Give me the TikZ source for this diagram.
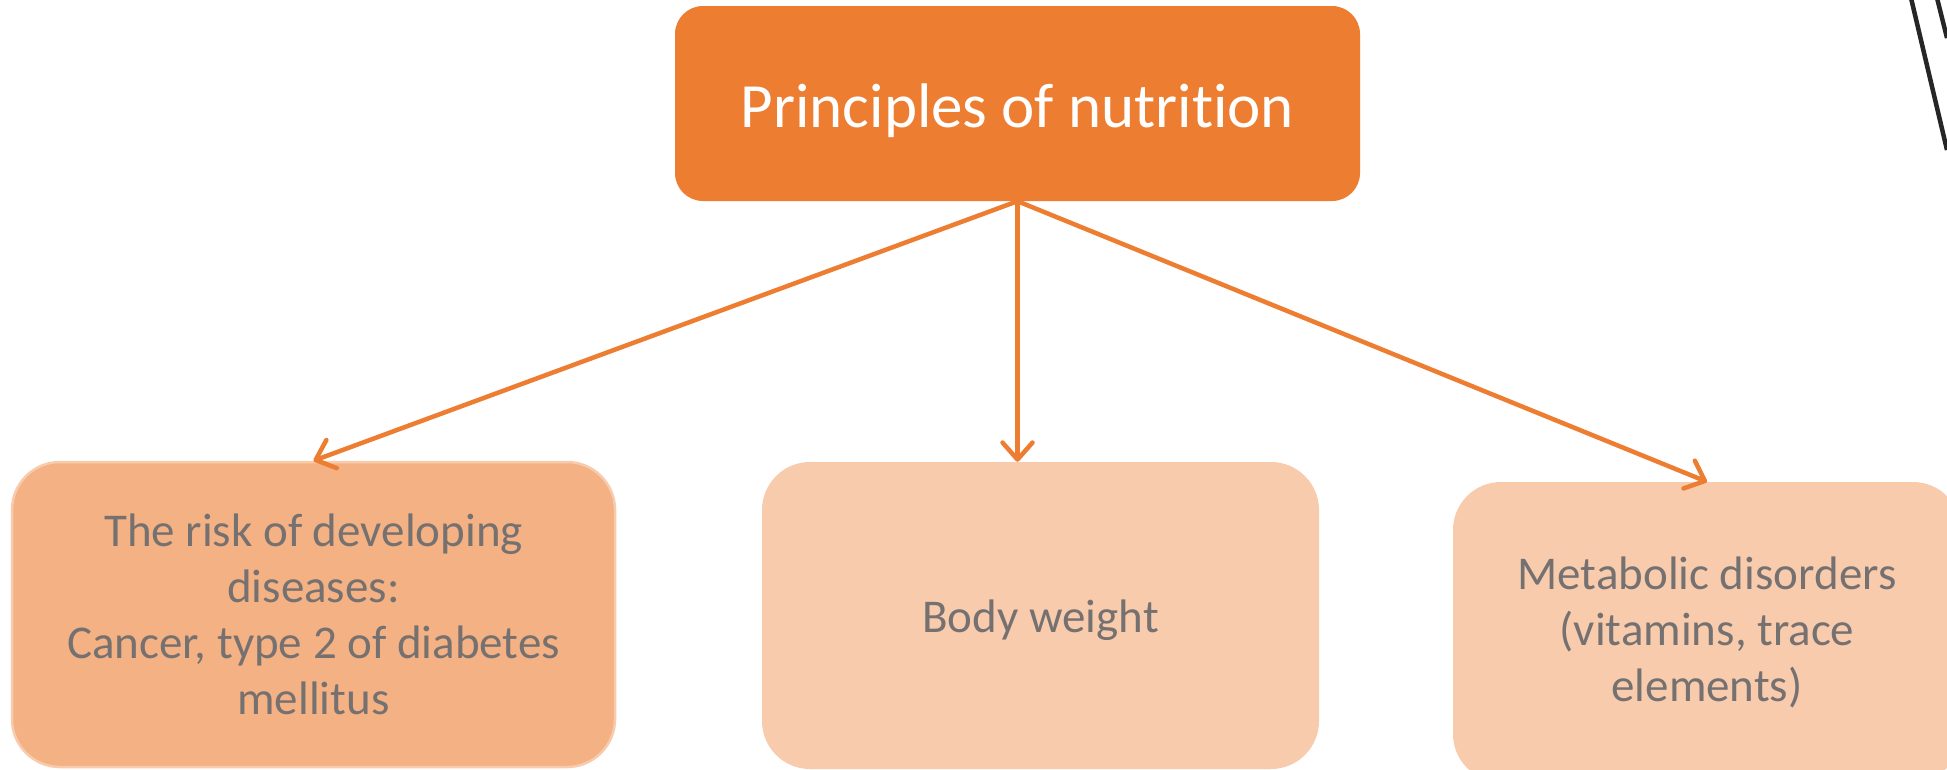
\documentclass[tikz,border=0pt]{standalone}
\usepackage{fontspec}
\setmainfont{Carlito}[Ligatures=NoCommon]
\usetikzlibrary{arrows.meta}
\definecolor{orangeA}{HTML}{ED7D31}
\definecolor{orangeB}{HTML}{F4B183}
\definecolor{orangeC}{HTML}{F8CBAD}
\definecolor{txtgray}{HTML}{767171}
\newcommand{\lowerby}[2]{\raisebox{0pt}[\dimexpr\height+#1\relax][\depth]{#2}}
\begin{document}
\begin{tikzpicture}[x=1pt,y=-1pt,
  topbox/.style={fill=orangeA, draw=none, rounded corners=28pt, inner sep=0pt,
    minimum width=685pt, minimum height=195pt, text=white,
    font=\fontsize{63}{75}\selectfont},
  leafbox/.style={fill=orangeC, draw=none, rounded corners=48pt, inner sep=0pt,
    align=center, text=txtgray, font=\fontsize{47}{56}\selectfont},
  link/.style={draw=orangeA, line width=4.5pt,
    -{Straight Barb[length=17pt,width=30pt,round]}},
  scratch/.style={draw=black!85, line width=4.5pt}
]
\useasboundingbox (0,0) rectangle (1947,769);
\fill[white] (0,0) rectangle (1947,769);

\node[topbox] (top) at (1017.5,103.5) {\lowerby{15pt}{Principles of nutrition}};

\node[leafbox, fill=orangeB, draw=orangeC, line width=2.5pt,
      minimum width=603pt, minimum height=305pt] (left) at (313.5,614.5)
  {The risk of developing\\diseases:\\Cancer, type 2 of diabetes\\mellitus};
\node[leafbox, minimum width=557pt, minimum height=307pt] (mid) at (1040.5,615.5)
  {\lowerby{10pt}{Body weight}};
\node[leafbox, minimum width=508pt, minimum height=300pt] (right) at (1707,632)
  {Metabolic disorders\\(vitamins, trace\\elements)};

\draw[link] (top.south) -- (left.north);
\draw[link] (top.south) -- (top.south |- mid.north);
\draw[link] (top.south) -- (right.north);

\coordinate (s1a) at (1911,-2);
\coordinate (s1b) at (1947,150);
\coordinate (s2a) at (1937,-2);
\coordinate (s2b) at (1947,38);
\draw[scratch] (s1a) -- (s1b);
\draw[scratch] (s2a) -- (s2b);
\end{tikzpicture}
\end{document}
